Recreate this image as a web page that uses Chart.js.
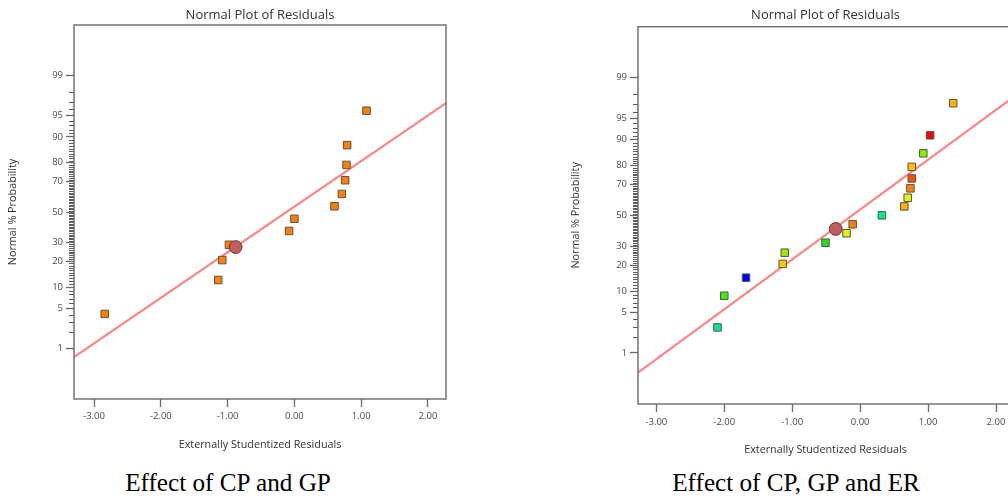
<!DOCTYPE html>
<html>
<head>
<meta charset="utf-8">
<script src="https://cdn.jsdelivr.net/npm/chart.js@4/dist/chart.umd.min.js"></script>
<style>
  html, body { margin: 0; padding: 0; background: #fff; }
  body { width: 1008px; height: 500px; overflow: hidden; position: relative; }
  .box { position: absolute; top: 0; }
  .cap { position: absolute; top: 470px; font-family: 'Liberation Serif', 'Times New Roman', serif;
         font-size: 25.2px; line-height: 1; color: #000; white-space: nowrap; transform: translateX(-50%); }
</style>
</head>
<body>
<div class="box" style="left:0px;"><canvas id="c1" width="460" height="460"></canvas></div>
<div class="box" style="left:560px;"><canvas id="c2" width="467" height="465"></canvas></div>
<div class="cap" style="left:228px;">Effect of CP and GP</div>
<div class="cap" style="left:796px;">Effect of CP, GP and ER</div>
<script>
// ---------------- data ----------------
const xTickValues = [-3, -2, -1, 0, 1, 2];
const yTickValues = [99, 95, 90, 80, 70, 50, 30, 20, 10, 5, 1];

// Left panel: Effect of CP and GP
const leftResidual = [1.08, 0.79, 0.78, 0.76, 0.71, 0.60, 0.00, -0.08, -0.98, -1.08, -1.14, -2.84];
const leftProb     = [95.8, 87.3, 78.9, 70.6, 62.1, 53.9, 45.4, 37.3, 28.8, 20.6, 12.3, 4.1];
const leftHighlightX = [-0.88];
const leftHighlightP = [27.5];
const leftLineX = [-3.30, 2.27];
const leftLineP = [0.67, 96.84];

// Right panel: Effect of CP, GP and ER
const rightResidual = [1.37, 1.03, 0.93, 0.76, 0.76, 0.74, 0.70, 0.65, 0.32, -0.11, -0.20, -0.51, -1.11, -1.14, -1.68, -2.00, -2.10];
const rightProb     = [97.1, 91.2, 85.3, 79.4, 73.4, 67.6, 61.7, 56.0, 50.0, 44.0, 38.1, 32.2, 26.4, 20.6, 14.6, 8.7, 2.9];
const rightHighlightX = [-0.36];
const rightHighlightP = [40.9];
const rightLineX = [-3.27, 2.25];
const rightLineP = [0.39, 97.7];

// ---------------- styles ----------------
const leftColors = leftResidual.map(() => '#FF8000');
const rightColors = ['#FFB400', '#FF0000', '#80F000', '#FFC000', '#FF5000', '#FF8000', '#F0F000', '#FFB000',
                     '#00F080', '#FF8000', '#E4F000', '#20E020', '#A0E800', '#FFC800', '#0000FF', '#40F000', '#00E890'];

// minor tick values for probability axis (axis decoration)
const yMinorValues = [98, 97, 96, 94, 93, 92, 91, 9, 8, 7, 6, 4, 3, 2];
for (let v = 11; v <= 89; v++) if (!yTickValues.includes(v)) yMinorValues.push(v);

// ---------------- normal probability scale ----------------
function probit(p) {
  const a = [-3.969683028665376e+01, 2.209460984245205e+02, -2.759285104469687e+02, 1.383577518672690e+02, -3.066479806614716e+01, 2.506628277459239e+00];
  const b = [-5.447609879822406e+01, 1.615858368580409e+02, -1.556989798598866e+02, 6.680131188771972e+01, -1.328068155288572e+01];
  const c = [-7.784894002430293e-03, -3.223964580411365e-01, -2.400758277161838e+00, -2.549732539343734e+00, 4.374664141464968e+00, 2.938163982698783e+00];
  const d = [7.784695709041462e-03, 3.224671290700398e-01, 2.445134137142996e+00, 3.754408661907416e+00];
  const pl = 0.02425, ph = 1 - pl;
  let q, r;
  if (p < pl) { q = Math.sqrt(-2 * Math.log(p)); return (((((c[0]*q+c[1])*q+c[2])*q+c[3])*q+c[4])*q+c[5]) / ((((d[0]*q+d[1])*q+d[2])*q+d[3])*q+1); }
  if (p <= ph) { q = p - 0.5; r = q*q; return (((((a[0]*r+a[1])*r+a[2])*r+a[3])*r+a[4])*r+a[5])*q / (((((b[0]*r+b[1])*r+b[2])*r+b[3])*r+b[4])*r+1); }
  q = Math.sqrt(-2 * Math.log(1 - p)); return -(((((c[0]*q+c[1])*q+c[2])*q+c[3])*q+c[4])*q+c[5]) / ((((d[0]*q+d[1])*q+d[2])*q+d[3])*q+1);
}
const Z_LIMIT = 3.19;
class ProbitScale extends Chart.LinearScale {
  determineDataLimits() { this.min = 0.01; this.max = 99.99; }
  buildTicks() { return yTickValues.map(v => ({ value: v })); }
  getPixelForValue(v) {
    const z = probit(v / 100);
    return this.getPixelForDecimal((z + Z_LIMIT) / (2 * Z_LIMIT));
  }
  getValueForPixel() { return null; }
}
ProbitScale.id = 'probit';
ProbitScale.defaults = {};
Chart.register(ProbitScale);

Chart.defaults.font.family = "'Open Sans', 'Noto Sans', sans-serif";

const frameColor = '#6a6a6a';
const framePlugin = {
  id: 'frame',
  afterDraw(chart) {
    const { ctx, chartArea: a, scales } = chart;
    const y = scales.y;
    ctx.save();
    ctx.strokeStyle = '#5c5c5c';
    ctx.lineWidth = 1;
    ctx.beginPath();
    yMinorValues.forEach(v => {
      const py = Math.round(y.getPixelForValue(v)) + 0.5;
      ctx.moveTo(a.left - 5, py);
      ctx.lineTo(a.left, py);
    });
    ctx.stroke();
    ctx.strokeStyle = frameColor;
    ctx.lineWidth = 1.4;
    ctx.strokeRect(a.left, a.top, a.right - a.left, a.bottom - a.top);
    ctx.restore();
  }
};

function makeChart(id, cfg) {
  const pts = cfg.x.map((x, i) => ({ x: x, y: cfg.p[i] }));
  const hl = cfg.hx.map((x, i) => ({ x: x, y: cfg.hp[i] }));
  const ln = cfg.lx.map((x, i) => ({ x: x, y: cfg.lp[i] }));
  return new Chart(document.getElementById(id), {
    type: 'scatter',
    data: {
      datasets: [
        { data: hl, order: 0, pointStyle: 'circle', pointRadius: 6.4,
          backgroundColor: '#C05F5E', borderColor: '#6A2E2E', borderWidth: 1 },
        { data: pts, order: 1, pointStyle: 'rect', pointRadius: 5.3,
          backgroundColor: cfg.colors, borderColor: '#555555', borderWidth: 1 },
        { data: ln, order: 2, showLine: true, pointRadius: 0,
          borderColor: '#FF8585', borderWidth: 2.2, fill: false }
      ]
    },
    options: {
      responsive: false,
      animation: false,
      events: [],
      layout: { padding: { left: 0, right: 14, top: 0, bottom: 0 } },
      plugins: {
        legend: { display: false },
        tooltip: { enabled: false },
        title: {
          display: true, text: 'Normal Plot of Residuals', fullSize: false,
          color: '#333333', font: { size: 13, weight: 'normal' },
          padding: { top: 7, bottom: cfg.titleBottom }
        }
      },
      scales: {
        x: {
          type: 'linear', min: cfg.xmin, max: cfg.xmax,
          afterBuildTicks: s => { s.ticks = xTickValues.map(v => ({ value: v })); },
          afterFit: s => { s.height = 61; },
          border: { display: false },
          grid: { display: true, drawOnChartArea: false, drawTicks: true, tickLength: 8, tickColor: frameColor, tickWidth: 1.3 },
          ticks: { autoSkip: false, maxRotation: 0, color: '#4a4a4a', font: { size: 9.5 }, padding: cfg.xPad,
                   callback: v => Number(v).toFixed(2) },
          title: { display: true, text: 'Externally Studentized Residuals', color: '#333333',
                   font: { size: 10.8 }, padding: { top: 0, bottom: 8.5 } }
        },
        y: {
          type: 'probit', position: 'left',
          afterBuildTicks: s => { s.ticks = yTickValues.map(v => ({ value: v })); },
          afterFit: s => { s.width = cfg.yWidth; },
          border: { display: false },
          grid: { display: true, drawOnChartArea: false, drawTicks: true, tickLength: 8, tickColor: frameColor, tickWidth: 1.3 },
          ticks: { autoSkip: false, color: '#4a4a4a', font: { size: 9.5 }, padding: 3,
                   callback: v => String(v) },
          title: { display: true, text: 'Normal % Probability', color: '#333333',
                   font: { size: 10.8 }, padding: { top: cfg.yTitlePad, bottom: 0 } }
        }
      }
    },
    plugins: [framePlugin]
  });
}

makeChart('c1', { x: leftResidual, p: leftProb, hx: leftHighlightX, hp: leftHighlightP,
  lx: leftLineX, lp: leftLineP, colors: leftColors, xmin: -3.30, xmax: 2.27,
  yWidth: 74, titleBottom: 2.4, xPad: 4, yTitlePad: 6.5 });
makeChart('c2', { x: rightResidual, p: rightProb, hx: rightHighlightX, hp: rightHighlightP,
  lx: rightLineX, lp: rightLineP, colors: rightColors, xmin: -3.27, xmax: 2.25,
  yWidth: 78, titleBottom: 4.1, xPad: 5, yTitlePad: 9.5 });
</script>
</body>
</html>
